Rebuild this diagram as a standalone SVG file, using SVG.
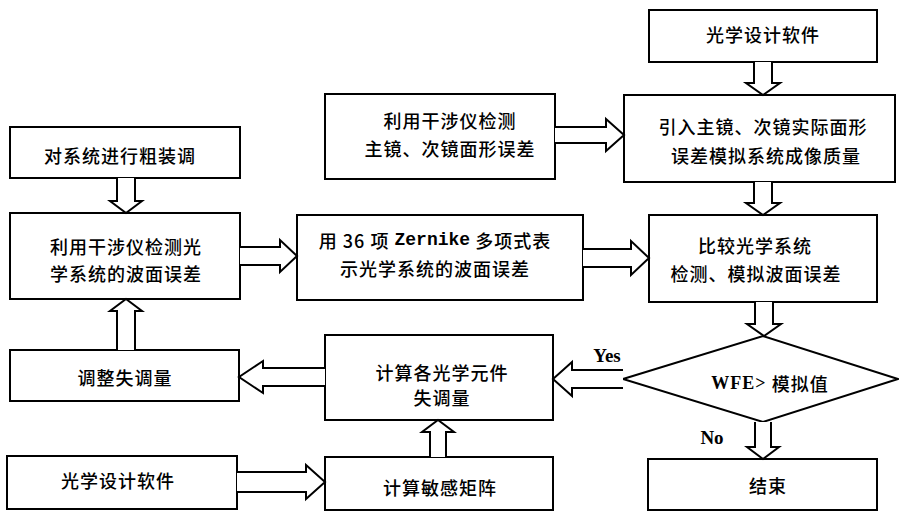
<svg xmlns="http://www.w3.org/2000/svg" width="899" height="511" viewBox="0 0 899 511">
<style>
.box{fill:#fff;stroke:#000;stroke-width:2}
.arr{fill:#fff;stroke:#000;stroke-width:2;stroke-linejoin:miter}
.t{font-family:"Noto Sans CJK SC","Noto Sans CJK JP",sans-serif;font-size:18px;font-weight:500;letter-spacing:1px;text-anchor:middle;dominant-baseline:central;fill:#000}
.lbl{font-family:"Liberation Serif",serif;font-size:19px;font-weight:bold;text-anchor:middle;dominant-baseline:central;fill:#000}
.mono{font-family:"Liberation Mono",monospace;font-weight:bold;letter-spacing:0}
</style>
<rect width="899" height="511" fill="#fff"/>
<g id="n1"><rect class="box" x="10" y="127" width="230" height="51"/><text class="t" x="120" y="155">对系统进行粗装调</text></g>
<g id="n2"><rect class="box" x="10" y="213" width="230" height="86"/><text class="t" x="126" y="246">利用干涉仪检测光</text><text class="t" x="126" y="273">学系统的波面误差</text></g>
<g id="n3"><rect class="box" x="10" y="350" width="229" height="51"/><text class="t" x="125" y="377">调整失调量</text></g>
<g id="n4"><rect class="box" x="7" y="456" width="230" height="53"/><text class="t" x="118" y="480">光学设计软件</text></g>
<g id="n5"><rect class="box" x="325" y="335" width="228" height="85"/><text class="t" x="442" y="372">计算各光学元件</text><text class="t" x="442" y="397">失调量</text></g>
<g id="n6"><rect class="box" x="325" y="457" width="228" height="53"/><text class="t" x="440" y="487">计算敏感矩阵</text></g>
<g id="n7"><rect class="box" x="325" y="94" width="230" height="85"/><text class="t" x="450" y="120">利用干涉仪检测</text><text class="t" x="450" y="148">主镜、次镜面形误差</text></g>
<g id="n8"><rect class="box" x="297" y="215" width="286" height="85"/><text class="t" x="435" y="240">用 36 项 <tspan class="mono">Zernike</tspan> 多项式表</text><text class="t" x="435" y="268">示光学系统的波面误差</text></g>
<g id="n9"><rect class="box" x="649" y="10" width="228" height="52"/><text class="t" x="763" y="34">光学设计软件</text></g>
<g id="n10"><rect class="box" x="624" y="95" width="271" height="87"/><text class="t" x="763" y="126">引入主镜、次镜实际面形</text><text class="t" x="766" y="155">误差模拟系统成像质量</text></g>
<g id="n11"><rect class="box" x="649" y="215" width="228" height="87"/><text class="t" x="755" y="245">比较光学系统</text><text class="t" x="756" y="273">检测、模拟波面误差</text></g>
<g id="n12"><polygon class="box" points="623,379 763,336 898,379 763,422"/><text class="t" x="770" y="383"><tspan font-family="Liberation Serif" font-weight="bold">WFE&gt;</tspan> 模拟值</text></g>
<g id="n13"><rect class="box" x="648" y="459" width="229" height="51"/><text class="t" x="768" y="485">结束</text></g>
<g id="connectors">
<path class="arr" d="M117 178 L117 201 L110 201 L126 213 L142 201 L135 201 L135 178"/>
<path class="arr" d="M117 350 L117 311 L110 311 L126 299 L142 311 L135 311 L135 350"/>
<path class="arr" d="M240 247 L280 247 L280 240 L297 256 L280 272 L280 265 L240 265"/>
<path class="arr" d="M555 127 L606 127 L606 119 L624 135 L606 151 L606 143 L555 143"/>
<path class="arr" d="M583 249 L631 249 L631 241 L649 258 L631 275 L631 267 L583 267"/>
<path class="arr" d="M754 62 L754 83 L746 83 L763 95 L780 83 L772 83 L772 62"/>
<path class="arr" d="M754 182 L754 203 L746 203 L763 215 L780 203 L772 203 L772 182"/>
<path class="arr" d="M755 302 L755 324 L747 324 L764 336 L781 324 L773 324 L773 302"/>
<path class="arr" d="M755 422 L755 447 L747 447 L763 459 L779 447 L771 447 L771 422"/>
<path class="arr" d="M623 370 L572 370 L572 362 L553 379 L572 396 L572 388 L623 388"/>
<path class="arr" d="M325 368 L263 368 L263 361 L239 377 L263 393 L263 386 L325 386"/>
<path class="arr" d="M237 472 L306 472 L306 465 L325 482 L306 499 L306 492 L237 492"/>
<path class="arr" d="M430 457 L430 432 L422 432 L438 420 L454 432 L446 432 L446 457"/>
<text class="lbl" x="607" y="355">Yes</text>
<text class="lbl" x="712" y="437">No</text>
</g>
</svg>
